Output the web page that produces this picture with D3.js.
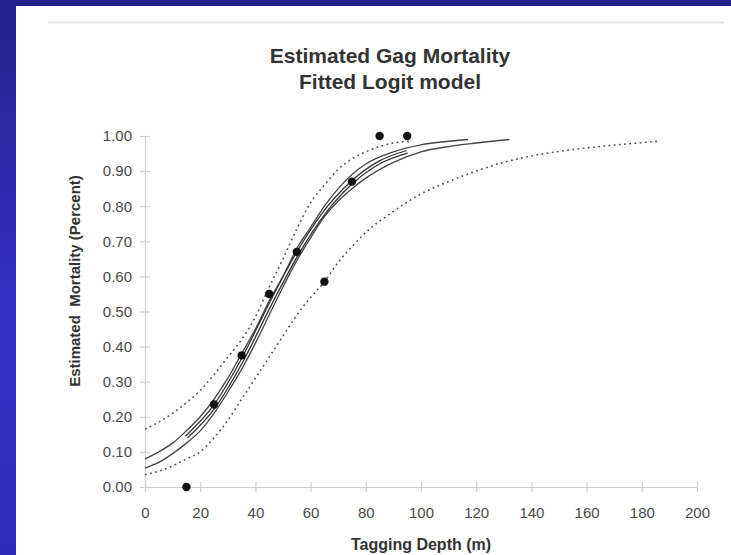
<!DOCTYPE html>
<html>
<head>
<meta charset="utf-8">
<script src="https://cdn.jsdelivr.net/npm/d3@7"></script>
<style>
  html, body { margin: 0; padding: 0; }
  body { width: 731px; height: 555px; overflow: hidden; }
  svg { display: block; font-family: "Liberation Sans", Arial, sans-serif; }
</style>
</head>
<body>
<div id="chart"></div>
<script>
// observed proportions by tagging depth
var depths    = [15, 25, 35, 45, 55, 65, 75, 85, 95];
var mortality = [0.00, 0.235, 0.375, 0.55, 0.67, 0.585, 0.87, 1.00, 1.00];

// fitted logit curve (within data range) and bands
var fitLine = [[15,0.142],[25,0.228],[35,0.358],[45,0.515],[55,0.662],[65,0.782],[75,0.868],[85,0.925],[95,0.955]];
var upperFit = [[0,0.08],[5,0.10],[10,0.125],[15,0.16],[20,0.20],[25,0.25],[30,0.31],[35,0.38],[40,0.45],[45,0.53],[50,0.60],[55,0.68],[60,0.74],[65,0.80],[70,0.85],[75,0.89],[80,0.92],[90,0.955],[100,0.975],[110,0.985],[117,0.99]];
var lowerFit = [[0,0.054],[5,0.07],[10,0.095],[15,0.125],[20,0.16],[25,0.21],[30,0.27],[35,0.335],[40,0.41],[45,0.49],[50,0.57],[55,0.645],[60,0.71],[65,0.77],[70,0.815],[75,0.85],[80,0.88],[90,0.925],[100,0.955],[110,0.97],[120,0.98],[132,0.99]];
var upperCI = [[0,0.165],[5,0.185],[10,0.21],[15,0.24],[20,0.275],[25,0.32],[30,0.37],[35,0.42],[40,0.485],[45,0.57],[50,0.65],[55,0.735],[60,0.81],[65,0.86],[70,0.905],[75,0.935],[80,0.955],[85,0.97],[90,0.98],[96,0.985]];
var lowerCI = [[0,0.035],[5,0.045],[10,0.06],[15,0.08],[20,0.10],[25,0.14],[30,0.19],[35,0.25],[40,0.31],[45,0.37],[50,0.43],[55,0.49],[60,0.54],[65,0.585],[70,0.64],[75,0.685],[80,0.725],[90,0.785],[100,0.835],[110,0.87],[120,0.90],[130,0.925],[140,0.943],[150,0.956],[160,0.966],[170,0.974],[186,0.985]];

var xTicks = [0, 20, 40, 60, 80, 100, 120, 140, 160, 180, 200];
var yTicks = [0, 0.1, 0.2, 0.3, 0.4, 0.5, 0.6, 0.7, 0.8, 0.9, 1.0];

var W = 731, H = 555;
var margin = {top: 136, left: 145, right: 34, bottom: 68},
    width  = W - margin.left - margin.right,
    height = H - margin.top - margin.bottom;

var svg = d3.select("#chart").append("svg")
    .attr("width", W).attr("height", H);

// blue slide background
var grad = svg.append("defs").append("linearGradient")
    .attr("id", "bg").attr("x1", 0).attr("y1", 0).attr("x2", 0).attr("y2", 1);
grad.append("stop").attr("offset", "0%").attr("stop-color", "#22228a");
grad.append("stop").attr("offset", "55%").attr("stop-color", "#3232c6");
grad.append("stop").attr("offset", "100%").attr("stop-color", "#2e2ebc");

svg.append("rect").attr("width", W).attr("height", H).attr("fill", "url(#bg)");
svg.append("rect").attr("x", 16).attr("y", 6).attr("width", W - 16).attr("height", H - 6).attr("fill", "#fefefe");
svg.append("line").attr("x1", 48).attr("x2", 724).attr("y1", 22.5).attr("y2", 22.5)
    .attr("stroke", "#e6e6e6").attr("stroke-width", 2);

// titles
svg.append("text").attr("x", 390).attr("y", 63).attr("text-anchor", "middle")
    .attr("font-size", 21).attr("font-weight", "bold").attr("fill", "#333")
    .text("Estimated Gag Mortality");
svg.append("text").attr("x", 390).attr("y", 89).attr("text-anchor", "middle")
    .attr("font-size", 21).attr("font-weight", "bold").attr("fill", "#333")
    .text("Fitted Logit model");

var g = svg.append("g").attr("transform", "translate(" + margin.left + "," + margin.top + ")");

var x = d3.scaleLinear().domain([0, 200]).range([0, width]),
    y = d3.scaleLinear().domain([0, 1]).range([height, 0]);

// axes: light grey, ticks crossing the line
var yAxis = g.append("g").attr("class", "axis")
    .call(d3.axisLeft(y).tickValues(yTicks).tickFormat(d3.format(".2f")).tickSizeInner(5).tickSizeOuter(0).tickPadding(8));
var xAxis = g.append("g").attr("class", "axis").attr("transform", "translate(0," + height + ")")
    .call(d3.axisBottom(x).tickValues(xTicks).tickFormat(d3.format("d")).tickSizeInner(5).tickSizeOuter(0).tickPadding(15));

g.selectAll(".axis .domain").attr("stroke", "#cfcfcf").attr("stroke-width", 1.2);
g.selectAll(".axis .tick line").attr("stroke", "#cfcfcf").attr("stroke-width", 1.2);
yAxis.selectAll(".tick line").attr("x1", 5).attr("x2", -5);
xAxis.selectAll(".tick line").attr("y1", -5).attr("y2", 5);
g.selectAll(".axis text").attr("font-size", 15).attr("fill", "#4a4a4a")
    .attr("font-family", "'Liberation Sans', Arial, sans-serif");

// axis titles
svg.append("text").attr("x", margin.left + x(100)).attr("y", 550).attr("text-anchor", "middle")
    .attr("font-size", 16).attr("font-weight", "bold").attr("fill", "#333")
    .text("Tagging Depth (m)");
svg.append("text").attr("transform", "translate(80,281) rotate(-90)").attr("text-anchor", "middle")
    .attr("font-size", 15).attr("font-weight", "bold").attr("fill", "#333")
    .attr("xml:space", "preserve")
    .text("Estimated  Mortality (Percent)");

var line = d3.line().curve(d3.curveMonotoneX)
    .x(function(d) { return x(d[0]); })
    .y(function(d) { return y(d[1]); });

// confidence band (dotted)
[upperCI, lowerCI].forEach(function(s) {
  g.append("path").datum(s).attr("d", line).attr("fill", "none")
    .attr("stroke", "#555").attr("stroke-width", 1.6).attr("stroke-dasharray", "1.8,3.4");
});

// solid fit lines
[upperFit, lowerFit].forEach(function(s) {
  g.append("path").datum(s).attr("d", line).attr("fill", "none")
    .attr("stroke", "#444").attr("stroke-width", 1.3);
});

// fitted line drawn as double stroke
g.append("path").datum(fitLine).attr("d", line).attr("fill", "none")
  .attr("stroke", "#333").attr("stroke-width", 4);
g.append("path").datum(fitLine).attr("d", line).attr("fill", "none")
  .attr("stroke", "#fff").attr("stroke-width", 1.4);

// observed points
g.selectAll("circle.obs").data(depths).enter().append("circle")
    .attr("class", "obs")
    .attr("cx", function(d) { return x(d); })
    .attr("cy", function(d, i) { return y(mortality[i]); })
    .attr("r", 4.2).attr("fill", "#111");
</script>
</body>
</html>
